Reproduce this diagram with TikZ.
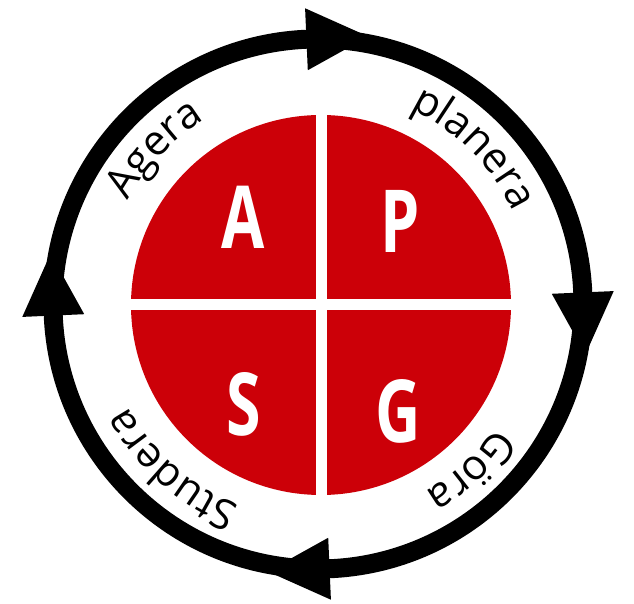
\documentclass[tikz,border=0pt]{standalone}
\usepackage{fontspec}
\newfontfamily\ringfont{Open Sans}
\newfontfamily\letterfont{Open Sans}
\usetikzlibrary{decorations.text,calc}
\definecolor{apsgred}{RGB}{204,0,8}
\begin{document}
\begin{tikzpicture}[x=1pt,y=1pt,
  ringtext/.style={decorate, decoration={text along path, text align=center,
     text={|\ringfont\fontsize{42}{42}\selectfont|#1}}},
  bigletter/.style={text=white, inner sep=0pt,
     font=\letterfont\bfseries\fontsize{87}{87}\selectfont},
  headtip/.style={fill=black}]
\useasboundingbox (0,0) rectangle (634,604);
\coordinate (c) at (318,300);
\coordinate (d) at (321,299);
% ring
\draw[line width=19] (c) circle[radius=265];
\foreach \a in {92.5,2.5,-87.5,182.5}
  \fill[headtip, shift={(c)}, shift={(\a:265)}, rotate=\a-90]
     (0,31) -- (62,0) -- (0,-31) -- cycle;
% red disc with white cross
\fill[apsgred] (d) circle[radius=190];
\fill[white] ($(d)+(-5.5,-191)$) rectangle ($(d)+(5.5,191)$);
\fill[white] ($(d)+(-191,-5.5)$) rectangle ($(d)+(191,5.5)$);
% letters
\node[bigletter] (A) at (243,387) {\scalebox{0.72}[1]{A}};
\node[bigletter] (P) at (400,383) {\scalebox{0.72}[1]{P}};
\node[bigletter] (S) at (244,200) {\scalebox{0.72}[1]{S}};
\node[bigletter] (G) at (398,193) {\scalebox{0.72}[1]{G}};
% ring texts (clockwise, tops outward)
\path[ringtext={Agera}] ($(c)+(181.5:216)$) arc[start angle=181.5, end angle=91.5, radius=216];
\path[ringtext={planera}] ($(c)+(90:216)$) arc[start angle=90, end angle=0, radius=216];
\path[ringtext={Göra}] ($(c)+(-2.5:216)$) arc[start angle=-2.5, end angle=-92.5, radius=216];
\path[ringtext={Studera}] ($(c)+(-86.5:216)$) arc[start angle=-86.5, end angle=-176.5, radius=216];
\end{tikzpicture}
\end{document}
